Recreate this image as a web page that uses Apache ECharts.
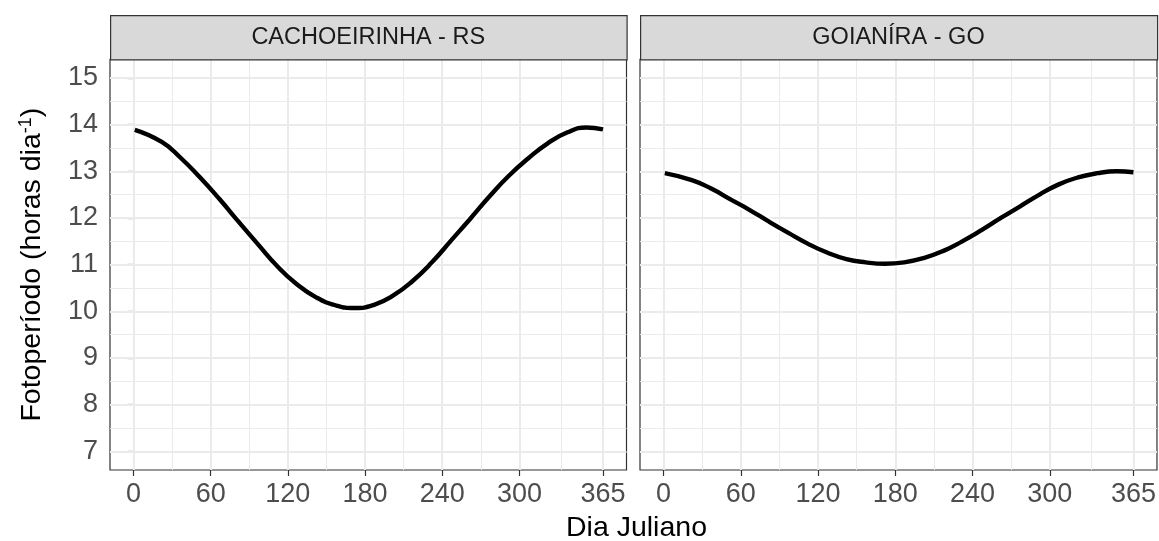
<!DOCTYPE html>
<html><head><meta charset="utf-8">
<script src="https://cdn.jsdelivr.net/npm/echarts@6/dist/echarts.min.js"></script>
<style>html,body{margin:0;padding:0;background:#fff}#c{width:1159px;height:541px}</style>
</head><body><div id="c"></div>
<script>
const panels = ['CACHOEIRINHA - RS', 'GOIANÍRA - GO'];
const days = [1, 22, 37, 52, 67, 82, 97, 112, 127, 142, 157, 172, 187, 202, 217, 232, 247, 262, 277, 292, 307, 322, 337, 352, 365];
const cachoeirinha = [13.89, 13.63, 13.28, 12.86, 12.40, 11.91, 11.43, 10.96, 10.58, 10.30, 10.13, 10.07, 10.14, 10.34, 10.65, 11.05, 11.52, 11.99, 12.47, 12.91, 13.28, 13.60, 13.83, 13.94, 13.90];
const goianira = [12.96, 12.81, 12.63, 12.40, 12.17, 11.92, 11.68, 11.45, 11.26, 11.12, 11.05, 11.02, 11.05, 11.14, 11.29, 11.50, 11.74, 12.00, 12.25, 12.50, 12.72, 12.87, 12.96, 13.00, 12.98];
const xTicks = [0, 60, 120, 180, 240, 300, 365];
const xMinor = [30, 90, 150, 210, 270, 332.5];
const yTicks = [7, 8, 9, 10, 11, 12, 13, 14, 15];
const yMinor = [7.5, 8.5, 9.5, 10.5, 11.5, 12.5, 13.5, 14.5];
const xTitle = 'Dia Juliano';
const yTitle = 'Fotoperíodo (horas dia{sup|-1})';

const FONT = '"Liberation Sans", Arial, sans-serif';
const gridBoxes = [
  {left: 110, top: 59.3, width: 516.5, height: 410.7},
  {left: 640, top: 59.3, width: 517, height: 410.7}
];
const seriesData = [
  days.map((d, i) => [d, cachoeirinha[i]]),
  days.map((d, i) => [d, goianira[i]])
];

const chart = echarts.init(document.getElementById('c'), null, {renderer: 'canvas'});

const grid = gridBoxes.map(g => Object.assign({
  show: true, backgroundColor: '#fff', borderColor: '#333333', borderWidth: 1.2, containLabel: false
}, g));

const xAxis = gridBoxes.map((g, i) => ({
  type: 'value', gridIndex: i, min: -18.25, max: 383.25,
  axisLine: {show: false},
  axisTick: {show: true, customValues: xTicks, length: 6, lineStyle: {color: '#333333', width: 1.2}},
  axisLabel: {show: true, customValues: xTicks, fontSize: 27, color: '#4D4D4D', fontFamily: FONT, margin: 11},
  splitLine: {show: false}
}));

const yAxis = gridBoxes.map((g, i) => ({
  type: 'value', gridIndex: i, min: 6.6, max: 15.4,
  axisLine: {show: false},
  axisTick: {show: i === 0, customValues: yTicks, length: 6, lineStyle: {color: '#333333', width: 1.2}},
  axisLabel: {show: i === 0, customValues: yTicks, fontSize: 27, color: '#4D4D4D', fontFamily: FONT, margin: 12},
  splitLine: {show: false},
  name: i === 0 ? yTitle : '',
  nameLocation: 'middle', nameGap: 62, nameRotate: 90,
  nameTextStyle: {
    fontSize: 28.5, color: '#000', fontFamily: FONT,
    rich: {sup: {fontSize: 18, color: '#000', fontFamily: FONT, verticalAlign: 'top', padding: [0, 0, 13, 0]}}
  }
}));

function gridLines() {
  const major = {color: '#EBEBEB', width: 2, type: 'solid'};
  const minor = {color: '#EBEBEB', width: 1, type: 'solid'};
  return []
    .concat(xMinor.map(v => ({xAxis: v, lineStyle: minor})))
    .concat(yMinor.map(v => ({yAxis: v, lineStyle: minor})))
    .concat(xTicks.map(v => ({xAxis: v, lineStyle: major})))
    .concat(yTicks.map(v => ({yAxis: v, lineStyle: major})));
}

const series = [];
gridBoxes.forEach((g, i) => {
  series.push({
    type: 'line', xAxisIndex: i, yAxisIndex: i, data: seriesData[i], z: 1,
    showSymbol: false, symbol: 'none', lineStyle: {opacity: 0, width: 0}, silent: true,
    markLine: {z: 1, silent: true, symbol: ['none', 'none'], label: {show: false}, animation: false, data: gridLines()}
  });
  series.push({
    type: 'line', xAxisIndex: i, yAxisIndex: i, data: seriesData[i], z: 6,
    showSymbol: false, symbol: 'none', smooth: 0.5, silent: true,
    lineStyle: {color: '#ffffff', width: 8, cap: 'butt'}
  });
  series.push({
    type: 'line', xAxisIndex: i, yAxisIndex: i, data: seriesData[i], z: 7,
    showSymbol: false, symbol: 'none', smooth: 0.5, silent: true,
    lineStyle: {color: '#000000', width: 4.4, cap: 'butt'}
  });
});

const graphic = [];
gridBoxes.forEach((g, i) => {
  graphic.push({
    type: 'rect', left: g.left, top: 15, z: 10,
    shape: {width: g.width, height: 44.3},
    style: {fill: '#D9D9D9', stroke: '#333333', lineWidth: 1.2}
  });
  graphic.push({
    type: 'text', x: g.left + g.width / 2, y: 15 + 44.3 / 2, z: 11,
    style: {text: panels[i], fill: '#1A1A1A', font: '23.5px ' + FONT, textAlign: 'center', textVerticalAlign: 'middle'}
  });
});
graphic.push({
  type: 'text', x: (110 + 1157) / 2 + 3, y: 528, z: 11,
  style: {text: xTitle, fill: '#000', font: '28.5px ' + FONT, textAlign: 'center', textVerticalAlign: 'middle'}
});

chart.setOption({
  animation: false,
  backgroundColor: '#fff',
  grid, xAxis, yAxis, series, graphic
});
</script>
</body></html>
